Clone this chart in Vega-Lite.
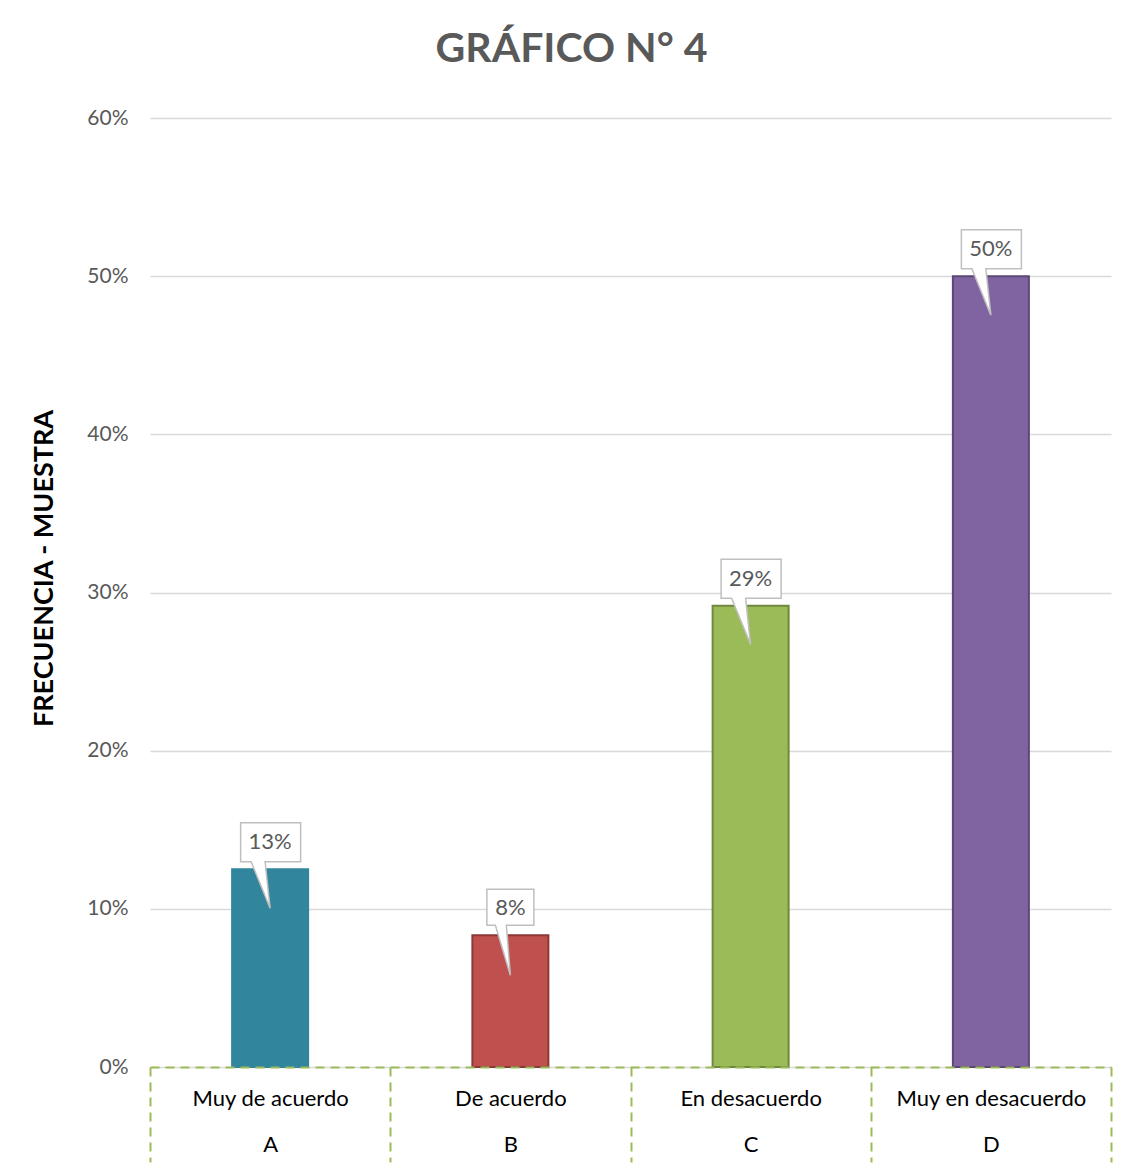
{
  "$schema": "https://vega.github.io/schema/vega-lite/v6.json",
  "width": 961,
  "height": 949,
  "autosize": {"type": "none"},
  "padding": {"left": 150, "top": 118, "right": 30, "bottom": 102},
  "background": "white",
  "config": {"view": {"stroke": null}, "font": "Lato"},
  "title": {
    "text": "GRÁFICO N° 4",
    "anchor": "middle",
    "dx": -59,
    "offset": 36,
    "fontSize": 41,
    "fontWeight": "bold",
    "color": "#595959",
    "font": "Lato"
  },
  "data": {
    "values": [
      {"letter": "A", "cat": "Muy de acuerdo", "value": 0.125},
      {"letter": "B", "cat": "De acuerdo", "value": 0.0833},
      {"letter": "C", "cat": "En desacuerdo", "value": 0.2917},
      {"letter": "D", "cat": "Muy en desacuerdo", "value": 0.5}
    ]
  },
  "encoding": {
    "x": {
      "field": "letter",
      "type": "nominal",
      "scale": {"paddingInner": 0, "paddingOuter": 0},
      "axis": {
        "title": null,
        "labelAngle": 0,
        "labelExpr": "datum.value == 'A' ? ['Muy de acuerdo', 'A'] : datum.value == 'B' ? ['De acuerdo', 'B'] : datum.value == 'C' ? ['En desacuerdo', 'C'] : datum.value == 'D' ? ['Muy en desacuerdo', 'D'] : ''",
        "labelFontSize": 22,
        "labelColor": "#000000",
        "labelFont": "Lato",
        "labelLineHeight": 46,
        "labelPadding": -74,
        "labelBaseline": "top",
        "labelLimit": 400,
        "tickBand": "extent",
        "tickSize": 95,
        "tickColor": "#9bbb59",
        "tickWidth": 2,
        "tickDash": [9, 6],
        "domainColor": "#9bbb59",
        "domainWidth": 2,
        "domainDash": [9, 6],
        "zindex": 1
      }
    },
    "y": {
      "field": "value",
      "type": "quantitative",
      "scale": {"domain": [0, 0.6]},
      "axis": {
        "values": [0, 0.1, 0.2, 0.3, 0.4, 0.5, 0.6],
        "format": ".0%",
        "title": "FRECUENCIA - MUESTRA",
        "titleFont": "Lato",
        "titleFontSize": 27,
        "titleFontWeight": "bold",
        "titleColor": "#000000",
        "titleAngle": 270,
        "titleAlign": "center",
        "titleBaseline": "middle",
        "titleX": -106,
        "titleY": 450,
        "labelFontSize": 21,
        "labelColor": "#595959",
        "labelFont": "Lato",
        "labelPadding": 22,
        "ticks": false,
        "domain": false,
        "gridColor": "#d9d9d9",
        "gridWidth": 1.5
      }
    }
  },
  "layer": [
    {
      "mark": {"type": "bar", "size": 76, "strokeWidth": 2},
      "encoding": {
        "color": {
          "field": "letter",
          "type": "nominal",
          "scale": {"domain": ["A", "B", "C", "D"], "range": ["#31859c", "#c0504d", "#9bbb59", "#8064a2"]},
          "legend": null
        },
        "stroke": {
          "field": "letter",
          "type": "nominal",
          "scale": {"domain": ["A", "B", "C", "D"], "range": ["#31859c", "#8c3836", "#71893f", "#5c4776"]},
          "legend": null
        }
      }
    },
    {
      "mark": {"type": "point", "filled": true, "fill": "white", "stroke": "#bfbfbf", "strokeWidth": 1.5, "opacity": 1, "size": 10000},
      "encoding": {
        "shape": {
          "condition": {"test": "datum.letter == 'B'", "value": "M -0.47 -0.92 L 0.47 -0.92 L 0.47 -0.2 L -0.08 -0.2 L 0 0.8 L -0.3 -0.2 L -0.47 -0.2 Z"},
          "value": "M -0.59 -0.93 L 0.61 -0.93 L 0.61 -0.15 L -0.1 -0.15 L 0 0.78 L -0.38 -0.15 L -0.59 -0.15 Z"
        }
      }
    },
    {
      "mark": {"type": "text", "dy": -27, "fontSize": 22, "color": "#595959", "font": "Lato", "baseline": "middle"},
      "encoding": {
        "text": {"field": "value", "type": "quantitative", "format": ".0%"}
      }
    }
  ]
}
